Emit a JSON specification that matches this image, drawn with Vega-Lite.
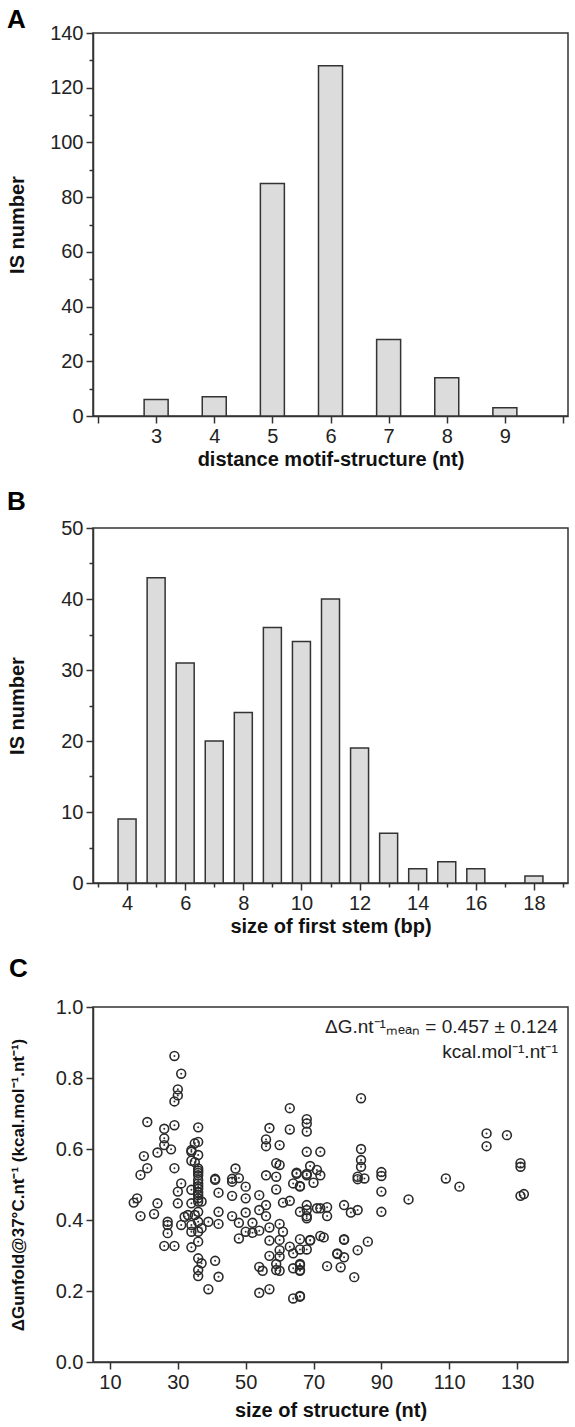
{
  "$schema": "https://vega.github.io/schema/vega-lite/v6.json",
  "padding": {"left": 6, "top": 6, "right": 5, "bottom": 2},
  "spacing": 18,
  "config": {
    "font": "Liberation Sans",
    "view": {"stroke": "#333", "strokeWidth": 1.5},
    "axis": {
      "grid": false,
      "domainColor": "#333",
      "domainWidth": 1.5,
      "tickColor": "#333",
      "tickWidth": 1.5,
      "labelFont": "Liberation Sans",
      "labelFontSize": 20,
      "labelColor": "#222",
      "labelPadding": 3,
      "titleFont": "Liberation Sans",
      "titleFontSize": 20,
      "titleFontWeight": "bold",
      "titleColor": "#111"
    },
    "title": {"anchor": "start", "frame": "bounds", "fontSize": 26, "fontWeight": "bold", "font": "Liberation Sans", "color": "#000"}
  },
  "vconcat": [
    {
      "title": {"text": "A", "offset": -10},
      "width": 475,
      "height": 383,
      "data": {"values": [
        {"d": 3, "n": 6}, {"d": 4, "n": 7}, {"d": 5, "n": 85}, {"d": 6, "n": 128},
        {"d": 7, "n": 28}, {"d": 8, "n": 14}, {"d": 9, "n": 3}
      ]},
      "mark": {"type": "bar", "width": 24, "fill": "#dcdcdc", "stroke": "#333", "strokeWidth": 1.5},
      "encoding": {
        "x": {"field": "d", "type": "quantitative",
          "scale": {"domain": [2, 10], "nice": false, "zero": false},
          "axis": {"title": "distance motif-structure (nt)", "titlePadding": 3, "format": "d",
            "values": [2, 2.5, 3, 3.5, 4, 4.5, 5, 5.5, 6, 6.5, 7, 7.5, 8, 8.5, 9, 9.5, 10],
            "labelExpr": "(datum.value % 1 === 0 && datum.value >= 3 && datum.value <= 9) ? datum.label : ''",
            "tickSize": {"condition": {"test": "datum.value % 1 !== 0", "value": 4}, "value": 7}}},
        "y": {"field": "n", "type": "quantitative",
          "scale": {"domain": [0, 140], "nice": false},
          "axis": {"title": "IS number", "titleX": -66,
            "values": [0, 10, 20, 30, 40, 50, 60, 70, 80, 90, 100, 110, 120, 130, 140],
            "labelExpr": "datum.value % 20 === 0 ? datum.label : ''",
            "tickSize": {"condition": {"test": "datum.value % 20 !== 0", "value": 4}, "value": 7}}}
      }
    },
    {
      "title": {"text": "B", "offset": 3},
      "width": 475,
      "height": 355,
      "data": {"values": [
        {"s": 4, "n": 9}, {"s": 5, "n": 43}, {"s": 6, "n": 31}, {"s": 7, "n": 20},
        {"s": 8, "n": 24}, {"s": 9, "n": 36}, {"s": 10, "n": 34}, {"s": 11, "n": 40},
        {"s": 12, "n": 19}, {"s": 13, "n": 7}, {"s": 14, "n": 2}, {"s": 15, "n": 3},
        {"s": 16, "n": 2}, {"s": 18, "n": 1}
      ]},
      "mark": {"type": "bar", "width": 18, "fill": "#dcdcdc", "stroke": "#333", "strokeWidth": 1.5},
      "encoding": {
        "x": {"field": "s", "type": "quantitative",
          "scale": {"domain": [3, 19], "nice": false, "zero": false},
          "axis": {"title": "size of first stem (bp)", "titlePadding": 3, "format": "d",
            "values": [3, 4, 5, 6, 7, 8, 9, 10, 11, 12, 13, 14, 15, 16, 17, 18, 19],
            "labelExpr": "(datum.value % 2 === 0) ? datum.label : ''",
            "tickSize": {"condition": {"test": "datum.value % 2 !== 0", "value": 4}, "value": 7}}},
        "y": {"field": "n", "type": "quantitative",
          "scale": {"domain": [0, 50], "nice": false},
          "axis": {"title": "IS number", "titleX": -66,
            "values": [0, 5, 10, 15, 20, 25, 30, 35, 40, 45, 50],
            "labelExpr": "datum.value % 10 === 0 ? datum.label : ''",
            "tickSize": {"condition": {"test": "datum.value % 10 !== 0", "value": 4}, "value": 7}}}
      }
    },
    {
      "title": {"text": "C", "offset": 15},
      "width": 475,
      "height": 355,
      "layer": [
        {
          "data": {"name": "pts"},
          "mark": {"type": "point", "shape": "circle", "filled": false, "size": 78, "stroke": "#2a2a2a", "strokeWidth": 1.6, "opacity": 1},
          "encoding": {
            "x": {"field": "size", "type": "quantitative",
              "scale": {"domain": [5, 145], "nice": false, "zero": false},
              "axis": {"title": "size of structure (nt)", "titlePadding": 8,
                "values": [10, 20, 30, 40, 50, 60, 70, 80, 90, 100, 110, 120, 130, 140],
                "labelExpr": "(datum.value % 20 === 10) ? datum.label : ''",
                "tickSize": 7}},
            "y": {"field": "dg", "type": "quantitative",
              "scale": {"domain": [0, 1], "nice": false},
              "axis": {"title": "ΔGunfold@37°C.nt⁻¹ (kcal.mol⁻¹.nt⁻¹)", "titleX": -66, "titleFontSize": 17,
                "values": [0, 0.1, 0.2, 0.3, 0.4, 0.5, 0.6, 0.7, 0.8, 0.9, 1.0],
                "format": ".1f",
                "labelExpr": "(round(datum.value * 10) % 2 === 0) ? datum.label : ''",
                "tickSize": {"condition": {"test": "round(datum.value * 10) % 2 !== 0", "value": 4}, "value": 7}}}
          }
        },
        {
          "data": {"name": "pts"},
          "mark": {"type": "point", "shape": "circle", "filled": true, "size": 4, "color": "#333", "opacity": 1},
          "encoding": {
            "x": {"field": "size", "type": "quantitative"},
            "y": {"field": "dg", "type": "quantitative"}
          }
        },
        {
          "data": {"values": [{}]},
          "mark": {"type": "text", "align": "right", "baseline": "middle", "fontSize": 19, "color": "#222", "font": "Liberation Sans"},
          "encoding": {
            "x": {"datum": 142},
            "y": {"datum": 0.944},
            "text": {"value": "ΔG.nt⁻¹ₘₑₐₙ = 0.457 ± 0.124"}
          }
        },
        {
          "data": {"values": [{}]},
          "mark": {"type": "text", "align": "right", "baseline": "middle", "fontSize": 19, "color": "#222", "font": "Liberation Sans"},
          "encoding": {
            "x": {"datum": 142},
            "y": {"datum": 0.873},
            "text": {"value": "kcal.mol⁻¹.nt⁻¹"}
          }
        }
      ]
    }
  ],
  "datasets": {
    "pts": [
      {"size": 29, "dg": 0.862}, {"size": 31, "dg": 0.812}, {"size": 30, "dg": 0.768}, {"size": 30, "dg": 0.751},
      {"size": 29, "dg": 0.734}, {"size": 21, "dg": 0.676}, {"size": 26, "dg": 0.657}, {"size": 29, "dg": 0.667},
      {"size": 36, "dg": 0.661}, {"size": 26, "dg": 0.630}, {"size": 26, "dg": 0.611}, {"size": 28, "dg": 0.599},
      {"size": 24, "dg": 0.590}, {"size": 20, "dg": 0.580}, {"size": 21, "dg": 0.546}, {"size": 19, "dg": 0.527},
      {"size": 29, "dg": 0.546}, {"size": 34, "dg": 0.597}, {"size": 35, "dg": 0.616}, {"size": 36, "dg": 0.620},
      {"size": 36, "dg": 0.583}, {"size": 34, "dg": 0.567}, {"size": 35, "dg": 0.563}, {"size": 36, "dg": 0.545},
      {"size": 36, "dg": 0.526}, {"size": 47, "dg": 0.545}, {"size": 41, "dg": 0.516}, {"size": 46, "dg": 0.516},
      {"size": 48, "dg": 0.518}, {"size": 63, "dg": 0.715}, {"size": 57, "dg": 0.659}, {"size": 63, "dg": 0.655},
      {"size": 68, "dg": 0.684}, {"size": 68, "dg": 0.672}, {"size": 68, "dg": 0.649}, {"size": 56, "dg": 0.627},
      {"size": 56, "dg": 0.608}, {"size": 60, "dg": 0.611}, {"size": 68, "dg": 0.592}, {"size": 72, "dg": 0.592},
      {"size": 59, "dg": 0.560}, {"size": 60, "dg": 0.555}, {"size": 69, "dg": 0.552}, {"size": 56, "dg": 0.526},
      {"size": 59, "dg": 0.522}, {"size": 65, "dg": 0.530}, {"size": 68, "dg": 0.530}, {"size": 71, "dg": 0.541},
      {"size": 72, "dg": 0.526}, {"size": 84, "dg": 0.743}, {"size": 84, "dg": 0.600}, {"size": 84, "dg": 0.569},
      {"size": 84, "dg": 0.550}, {"size": 83, "dg": 0.522}, {"size": 85, "dg": 0.517}, {"size": 90, "dg": 0.535},
      {"size": 90, "dg": 0.524}, {"size": 121, "dg": 0.644}, {"size": 121, "dg": 0.608}, {"size": 127, "dg": 0.639},
      {"size": 131, "dg": 0.560}, {"size": 131, "dg": 0.550}, {"size": 109, "dg": 0.517}, {"size": 65, "dg": 0.533},
      {"size": 68, "dg": 0.526}, {"size": 34, "dg": 0.592}, {"size": 36, "dg": 0.539}, {"size": 36, "dg": 0.533},
      {"size": 36, "dg": 0.513}, {"size": 36, "dg": 0.503}, {"size": 36, "dg": 0.495}, {"size": 36, "dg": 0.488},
      {"size": 36, "dg": 0.478}, {"size": 36, "dg": 0.470}, {"size": 36, "dg": 0.461}, {"size": 31, "dg": 0.503},
      {"size": 30, "dg": 0.480}, {"size": 34, "dg": 0.485}, {"size": 41, "dg": 0.513}, {"size": 42, "dg": 0.477},
      {"size": 46, "dg": 0.508}, {"size": 50, "dg": 0.494}, {"size": 46, "dg": 0.468}, {"size": 50, "dg": 0.461},
      {"size": 54, "dg": 0.470}, {"size": 59, "dg": 0.486}, {"size": 18, "dg": 0.461}, {"size": 17, "dg": 0.449},
      {"size": 24, "dg": 0.447}, {"size": 19, "dg": 0.411}, {"size": 23, "dg": 0.417}, {"size": 30, "dg": 0.447},
      {"size": 34, "dg": 0.447}, {"size": 36, "dg": 0.452}, {"size": 37, "dg": 0.452}, {"size": 42, "dg": 0.423},
      {"size": 36, "dg": 0.423}, {"size": 27, "dg": 0.395}, {"size": 27, "dg": 0.386}, {"size": 27, "dg": 0.363},
      {"size": 31, "dg": 0.386}, {"size": 34, "dg": 0.386}, {"size": 36, "dg": 0.395}, {"size": 39, "dg": 0.395},
      {"size": 42, "dg": 0.389}, {"size": 34, "dg": 0.367}, {"size": 37, "dg": 0.377}, {"size": 36, "dg": 0.367},
      {"size": 32, "dg": 0.409}, {"size": 33, "dg": 0.414}, {"size": 35, "dg": 0.414}, {"size": 26, "dg": 0.327},
      {"size": 29, "dg": 0.327}, {"size": 34, "dg": 0.323}, {"size": 36, "dg": 0.339}, {"size": 36, "dg": 0.292},
      {"size": 37, "dg": 0.278}, {"size": 36, "dg": 0.259}, {"size": 36, "dg": 0.242}, {"size": 41, "dg": 0.285},
      {"size": 42, "dg": 0.240}, {"size": 39, "dg": 0.205}, {"size": 46, "dg": 0.411}, {"size": 48, "dg": 0.392},
      {"size": 50, "dg": 0.421}, {"size": 52, "dg": 0.392}, {"size": 54, "dg": 0.428}, {"size": 56, "dg": 0.442},
      {"size": 56, "dg": 0.411}, {"size": 57, "dg": 0.379}, {"size": 60, "dg": 0.389}, {"size": 61, "dg": 0.367},
      {"size": 48, "dg": 0.348}, {"size": 50, "dg": 0.367}, {"size": 52, "dg": 0.364}, {"size": 54, "dg": 0.370},
      {"size": 57, "dg": 0.342}, {"size": 60, "dg": 0.344}, {"size": 63, "dg": 0.325}, {"size": 66, "dg": 0.346},
      {"size": 69, "dg": 0.344}, {"size": 73, "dg": 0.351}, {"size": 57, "dg": 0.299}, {"size": 60, "dg": 0.315},
      {"size": 60, "dg": 0.297}, {"size": 64, "dg": 0.306}, {"size": 66, "dg": 0.317}, {"size": 68, "dg": 0.317},
      {"size": 54, "dg": 0.268}, {"size": 55, "dg": 0.257}, {"size": 59, "dg": 0.276}, {"size": 59, "dg": 0.259},
      {"size": 60, "dg": 0.257}, {"size": 64, "dg": 0.264}, {"size": 66, "dg": 0.273}, {"size": 66, "dg": 0.259},
      {"size": 54, "dg": 0.195}, {"size": 57, "dg": 0.205}, {"size": 64, "dg": 0.179}, {"size": 66, "dg": 0.186},
      {"size": 61, "dg": 0.449}, {"size": 63, "dg": 0.454}, {"size": 66, "dg": 0.423}, {"size": 68, "dg": 0.442},
      {"size": 68, "dg": 0.428}, {"size": 68, "dg": 0.405}, {"size": 72, "dg": 0.433}, {"size": 74, "dg": 0.436},
      {"size": 74, "dg": 0.411}, {"size": 79, "dg": 0.442}, {"size": 64, "dg": 0.503}, {"size": 66, "dg": 0.494},
      {"size": 70, "dg": 0.505}, {"size": 74, "dg": 0.270}, {"size": 78, "dg": 0.267}, {"size": 77, "dg": 0.304},
      {"size": 79, "dg": 0.346}, {"size": 66, "dg": 0.496}, {"size": 83, "dg": 0.515}, {"size": 90, "dg": 0.480},
      {"size": 90, "dg": 0.423}, {"size": 98, "dg": 0.458}, {"size": 113, "dg": 0.494}, {"size": 131, "dg": 0.468},
      {"size": 132, "dg": 0.473}, {"size": 68, "dg": 0.411}, {"size": 71, "dg": 0.433}, {"size": 81, "dg": 0.421},
      {"size": 83, "dg": 0.428}, {"size": 69, "dg": 0.342}, {"size": 72, "dg": 0.355}, {"size": 79, "dg": 0.344},
      {"size": 86, "dg": 0.339}, {"size": 83, "dg": 0.315}, {"size": 77, "dg": 0.306}, {"size": 79, "dg": 0.295},
      {"size": 82, "dg": 0.239}, {"size": 66, "dg": 0.276}, {"size": 66, "dg": 0.257}, {"size": 66, "dg": 0.184}
    ]
  }
}
